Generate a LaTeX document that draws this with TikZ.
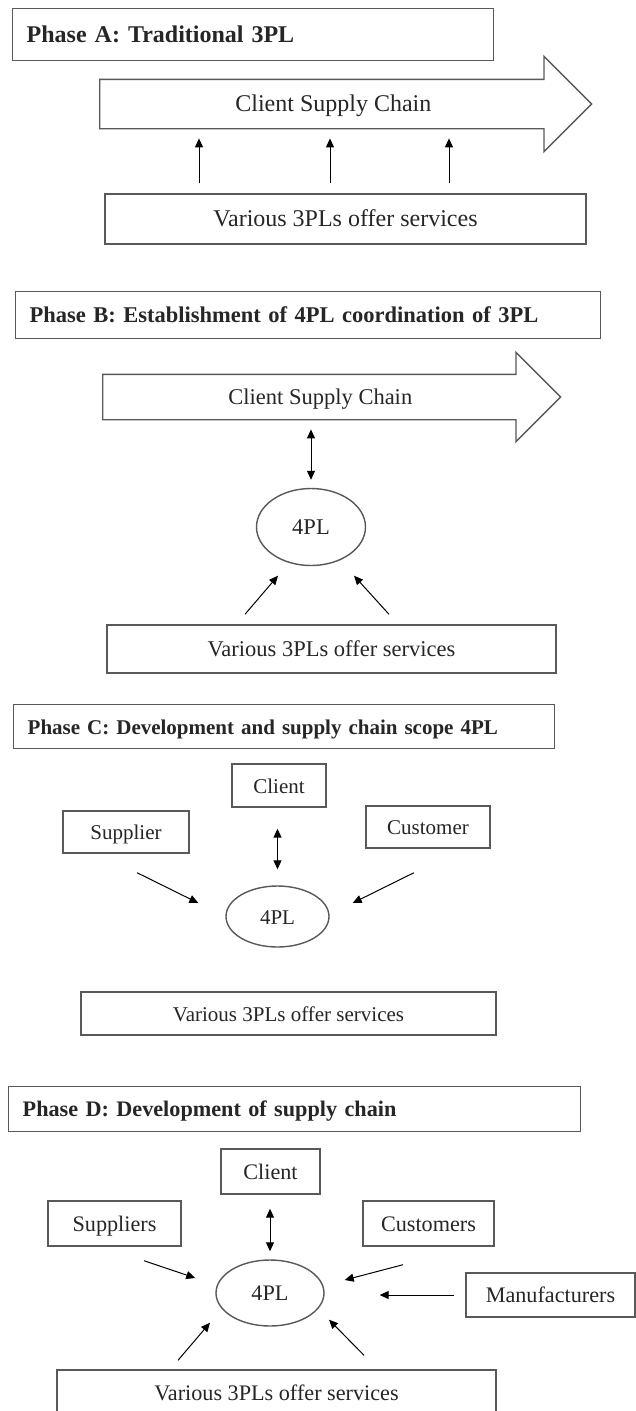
\documentclass[tikz,border=0pt]{standalone}
\usepackage{fontspec}
\setmainfont{Liberation Serif}
\usetikzlibrary{arrows.meta,shapes.geometric,shapes.arrows,calc}

\tikzset{
  box/.style={draw=black!65,line width=1.4pt,inner sep=0pt,text=black!85,
    text height=16pt,text depth=1pt},
  titlebox/.style={box,anchor=north west,align=left,inner xsep=14pt},
  chain/.style={box,single arrow,anchor=tail,inner xsep=0pt},
  oval/.style={box,ellipse},
  conn/.style={-{Triangle[length=9pt,width=8pt]},line width=1pt,black},
  dconn/.style={{Triangle[length=9pt,width=8pt]}-{Triangle[length=9pt,width=8pt]},line width=1pt,black}
}

\begin{document}
\begin{tikzpicture}[x=1pt,y=-1pt]
\useasboundingbox (0,0) rectangle (636,1411);
\fill[white] (0,0) rectangle (636,1411);
\clip (0,0) rectangle (636,1411);

% Phase A
\begin{scope}[font=\fontsize{24}{29}\selectfont]
\node[titlebox,text width=453pt,minimum height=52pt] (atitle) at (12,8) {\textbf{Phase A: Traditional 3PL}};
\node[chain,minimum height=492pt,single arrow head extend=23pt,inner ysep=15.5pt] (achain) at (99,104) {Client Supply Chain};
\node[box,minimum width=481pt,minimum height=50pt] (a3pl) at (345.5,219) {Various 3PLs offer services};
\foreach \dx in {-146.5,-15.5,103.5}
  \draw[conn,shorten <=10pt,shorten >=9pt] ([xshift=\dx pt]a3pl.north) -- ([xshift=\dx pt]a3pl.north |- achain.south);
\end{scope}

% Phase B
\begin{scope}[font=\fontsize{22.5}{27}\selectfont]
\node[titlebox,text width=557pt,minimum height=47pt] (btitle) at (15,291) {\textbf{Phase B: Establishment of 4PL coordination of 3PL}};
\node[chain,minimum height=458pt,single arrow head extend=22pt,inner ysep=13.5pt] (bchain) at (102,397) {Client Supply Chain};
\node[oval,minimum width=109pt,minimum height=77pt] (b4pl) at (311,527) {4PL};
\node[box,minimum width=449pt,minimum height=48pt] (b3pl) at (331.5,649) {Various 3PLs offer services};
\draw[dconn,shorten <=9pt,shorten >=8pt] (b4pl.north |- bchain.south) -- (b4pl.north);
\draw[conn] ($(b3pl.north)+(-86.5,-10)$) -- ($(b4pl.south)+(-33,9.5)$);
\draw[conn] ($(b3pl.north)+(57.5,-10)$) -- ($(b4pl.south)+(43,9.5)$);
\end{scope}

% Phase C
\begin{scope}[font=\fontsize{21}{25}\selectfont]
\node[titlebox,text width=513pt,minimum height=44pt] (ctitle) at (13,704) {\textbf{Phase C: Development and supply chain scope 4PL}};
\node[box,minimum width=94pt,minimum height=43pt] (ccli) at (279,785.5) {Client};
\node[box,minimum width=126pt,minimum height=42pt] (csup) at (126,832) {Supplier};
\node[box,minimum width=124pt,minimum height=42pt] (ccus) at (428,827) {Customer};
\node[oval,minimum width=103pt,minimum height=61pt] (c4pl) at (277.5,916.5) {4PL};
\node[box,minimum width=415pt,minimum height=43pt] (c3pl) at (288.5,1013.5) {Various 3PLs offer services};
\draw[dconn,shorten <=21pt,shorten >=16pt] (c4pl.north |- ccli.south) -- (c4pl.north);
\draw[conn] ($(csup.south)+(11,19)$) -- ($(c4pl.west)+(-27,-13.5)$);
\draw[conn] ($(ccus.south)+(-14,24)$) -- ($(c4pl.east)+(23,-13.5)$);
\end{scope}

% Phase D
\begin{scope}[font=\fontsize{22.2}{27}\selectfont]
\node[titlebox,text width=544pt,minimum height=45pt] (dtitle) at (8,1086) {\textbf{Phase D: Development of supply chain}};
\node[box,minimum width=99pt,minimum height=45pt] (dcli) at (270.5,1171.5) {Client};
\node[box,minimum width=133pt,minimum height=45pt] (dsup) at (114.5,1223.5) {Suppliers};
\node[box,minimum width=131pt,minimum height=45pt] (dcus) at (428.5,1223.5) {Customers};
\node[box,minimum width=169pt,minimum height=44pt] (dman) at (550.5,1295) {Manufacturers};
\node[oval,minimum width=108pt,minimum height=66pt] (d4pl) at (270,1293) {4PL};
\node[box,minimum width=439pt,minimum height=46pt] (d3pl) at (276.5,1393) {Various 3PLs offer services};
\draw[dconn,shorten <=14pt,shorten >=8pt] (d4pl.north |- dcli.south) -- (d4pl.north);
\draw[conn] ($(dsup.south)+(29.5,14)$) -- ($(d4pl.west)+(-20,-15)$);
\draw[conn] ($(dcus.south)+(-25.5,18)$) -- ($(d4pl.east)+(20,-13)$);
\draw[conn,shorten <=11pt,shorten >=55pt] (dman.west) -- (d4pl.east |- dman.west);
\draw[conn] ($(d3pl.north)+(-98.5,-9)$) -- ($(d4pl.south)+(-60,-4)$);
\draw[conn] ($(d3pl.north)+(87.5,-14)$) -- ($(d4pl.south)+(59,-7)$);
\end{scope}
\end{tikzpicture}
\end{document}
